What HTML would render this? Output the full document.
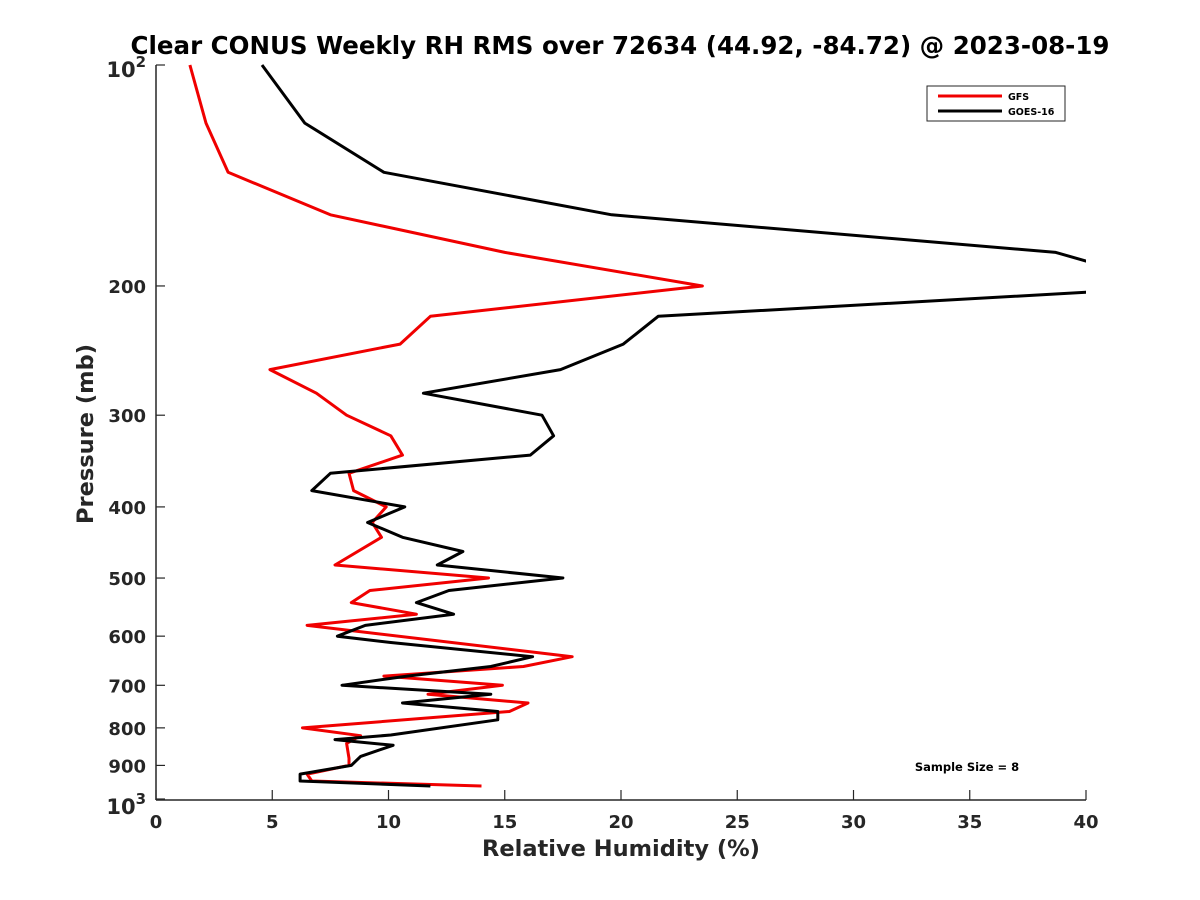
<!DOCTYPE html>
<html><head><meta charset="utf-8"><style>
body{margin:0;background:#fff;}
svg{display:block;font-family:"Liberation Sans","DejaVu Sans",sans-serif;}
</style></head><body>
<svg id="chart" width="1200" height="900" viewBox="0 0 1200 900" xmlns="http://www.w3.org/2000/svg">
<rect width="1200" height="900" fill="#fff"/>
<text x="620" y="54" text-anchor="middle" font-family="DejaVu Sans, sans-serif" font-weight="bold" font-size="24.5" fill="#000">Clear CONUS Weekly RH RMS over 72634 (44.92, -84.72) @ 2023-08-19</text>
<defs><clipPath id="plotclip"><rect x="156" y="60" width="930" height="745"/></clipPath></defs>
<g id="axes"></g>
<g id="series" clip-path="url(#plotclip)"></g>
<text x="621" y="856" text-anchor="middle" font-family="DejaVu Sans, sans-serif" font-weight="bold" font-size="22.5" fill="#262626">Relative Humidity (%)</text>
<text transform="translate(93,434) rotate(-90)" text-anchor="middle" font-family="DejaVu Sans, sans-serif" font-weight="bold" font-size="22.5" fill="#262626">Pressure (mb)</text>
<g>
<rect x="927" y="86" width="138" height="35" fill="#fff" stroke="#262626" stroke-width="1"/>
<line x1="938" y1="96" x2="1002" y2="96" stroke="#f00000" stroke-width="3"/>
<text x="1008" y="100" font-family="DejaVu Sans, sans-serif" font-weight="bold" font-size="9.5">GFS</text>
<line x1="938" y1="111" x2="1002" y2="111" stroke="#000" stroke-width="3"/>
<text x="1008" y="115" font-family="DejaVu Sans, sans-serif" font-weight="bold" font-size="9.5">GOES-16</text>
</g>
<text x="967" y="771" text-anchor="middle" font-family="DejaVu Sans, sans-serif" font-weight="bold" font-size="11.5">Sample Size = 8</text>
</svg>
<script>
const xTicks = [0,5,10,15,20,25,30,35,40];
const yTicks = [100,200,300,400,500,600,700,800,900,1000];
const yTickLabels = ["10","200","300","400","500","600","700","800","900","10"];
const gfsP = [100,120,140,160,180,200,220,240,260,280,300,320,340,360,380,400,420,440,480,500,520,540,560,580,640,660,680,700,720,740,760,800,820,840,880,900,925,945,960];
const gfsRH = [1.46,2.15,3.1,7.5,15.0,23.5,11.8,10.5,4.9,6.9,8.2,10.1,10.6,8.3,8.5,9.9,9.3,9.7,7.7,14.3,9.2,8.4,11.2,6.5,17.9,15.8,9.8,14.9,11.7,16.0,15.2,6.3,8.8,8.2,8.3,8.3,6.5,6.7,14.0];
const goesP = [100,120,140,160,180,185,193,204,220,240,260,280,300,320,340,360,380,400,420,440,460,480,500,520,540,560,580,600,612,640,660,680,700,720,740,760,780,818,830,845,875,900,925,945,960];
const goesRH = [4.56,6.4,9.8,19.6,38.7,40,42,40,21.6,20.1,17.4,11.5,16.6,17.1,16.1,7.5,6.7,10.7,9.1,10.6,13.2,12.1,17.5,12.6,11.2,12.8,9.0,7.8,10.1,16.2,14.4,10.8,8.0,14.4,10.6,14.7,14.7,10.1,7.7,10.2,8.8,8.4,6.2,6.2,11.8];

const NS="http://www.w3.org/2000/svg";
const X0=156,X1=1086,Y0=65,Y1=799;
function xs(v){return X0+(v-0)/(40-0)*(X1-X0);}
function ys(p){return Y0+(Math.log10(p)-2)*(Y1-Y0);}
function mk(tag,attrs,parent){const e=document.createElementNS(NS,tag);for(const k in attrs)e.setAttribute(k,attrs[k]);parent.appendChild(e);return e;}
const axes=document.getElementById('axes');
const ax=mk('line',{x1:X0,y1:Y1+1,x2:X1,y2:Y1+1,stroke:'#262626','stroke-width':1.5},axes);


const ay=mk('line',{x1:X0,y1:Y0,x2:X0,y2:Y1+1,stroke:'#262626','stroke-width':1.5},axes);


xTicks.forEach(v=>{
  const x=xs(v);
  const t=mk('line',{x1:x,y1:Y1+1,x2:x,y2:Y1-9,stroke:'#262626','stroke-width':1.2},axes);
  
  
  const l=mk('text',{x:x,y:828,'text-anchor':'middle','font-family':'DejaVu Sans, sans-serif','font-weight':'bold','font-size':18,fill:'#262626'},axes);
  l.textContent=String(v);
  
  
});
yTicks.forEach((p,i)=>{
  const y=ys(p);
  const t=mk('line',{x1:X0,y1:y,x2:X0+9,y2:y,stroke:'#262626','stroke-width':1.2},axes);
  
  
  const sup=(i===0||i===yTicks.length-1);
  const l=mk('text',{x:146,y:y+(i===yTicks.length-1?15:(i===0?12:7)),'text-anchor':'end','font-family':'DejaVu Sans, sans-serif','font-weight':'bold','font-size':sup?21:18,fill:'#262626'},axes);
  l.textContent=yTickLabels[i];
  
  
  if(sup){
    const s=mk('tspan',{dy:-10,'font-size':15},l);
    s.textContent=(i===0?'2':'3');
  }
});
const series=document.getElementById('series');
function draw(P,V,color,name){
  const pts=P.map((p,i)=>xs(V[i]).toFixed(1)+','+ys(p).toFixed(1)).join(' ');
  const pl=mk('polyline',{points:pts,fill:'none',stroke:color,'stroke-width':3,'stroke-linejoin':'round'},series);
  
  
}
draw(gfsP,gfsRH,'#f00000','gfs-line');
draw(goesP,goesRH,'#000000','goes16-line');
</script>
</body></html>
